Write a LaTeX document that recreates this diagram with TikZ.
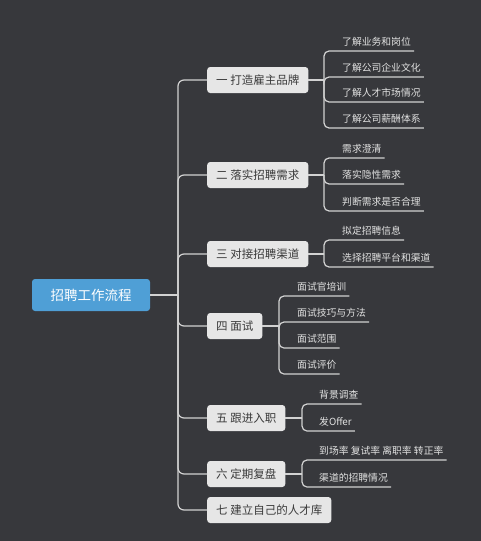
\documentclass[tikz,border=0pt]{standalone}
\usepackage{fontspec}
\newfontfamily\cjk{Noto Sans CJK SC}
\definecolor{bgcol}{HTML}{37383C}
\definecolor{rootblue}{HTML}{4F9FD6}
\definecolor{topicgray}{HTML}{E6E6E6}
\definecolor{topictext}{HTML}{3A3A3A}
\definecolor{leaftext}{HTML}{E2E2E2}
\definecolor{linkgray}{HTML}{D2D2D2}
\begin{document}
\begin{tikzpicture}[x=1pt,y=-1pt]
    \tikzset{
        rootbox/.style={fill=rootblue, rounded corners=3pt, text=white,
            font=\cjk\fontsize{13.5}{16}\selectfont, minimum width=118pt, minimum height=32pt},
        topic/.style={anchor=west, fill=topicgray, rounded corners=3pt, text=topictext,
            font=\cjk\fontsize{11.5}{14}\selectfont, minimum height=26pt, inner xsep=9pt},
        leaf/.style={anchor=south west, text=leaftext, font=\cjk\fontsize{9.8}{12}\selectfont,
            inner xsep=3pt, inner ysep=3pt, text height=8pt, text depth=2pt},
        link/.style={draw=linkgray, line width=1.2pt, rounded corners=5pt},}
    \fill[bgcol] (0,0) rectangle (481,541);
    \useasboundingbox (0,0) rectangle (481,541);
    % root and main topics
    \node[rootbox] (root) at (91,295) {招聘工作流程};
    \node[topic] (t1) at (207,80) {一 打造雇主品牌};
    \node[topic] (t2) at (207,175) {二 落实招聘需求};
    \node[topic] (t3) at (207,254) {三 对接招聘渠道};
    \node[topic] (t4) at (207,326) {四 面试};
    \node[topic] (t5) at (207,418) {五 跟进入职};
    \node[topic] (t6) at (207,474) {六 定期复盘};
    \node[topic] (t7) at (207,510) {七 建立自己的人才库};
    \coordinate (hub) at (178,295);
    \draw[link] (root.east) -- (hub);
    \foreach \t in {t1,t2,t3,t4,t5,t6,t7}
        \draw[link, rounded corners=6pt] (hub) |- (\t.west);
    % brackets
    \coordinate (k1) at (324,80);
    \coordinate (k2) at (324,175);
    \coordinate (k3) at (324,254);
    \coordinate (k4) at (279,326);
    \coordinate (k5) at (302,418);
    \coordinate (k6) at (302,474);
    \foreach \i in {1,...,6}
        \draw[link] (t\i.east) -- (k\i);
    % sub topics
    \foreach \txt/\yy [count=\i] in {了解业务和岗位/51, 了解公司企业文化/77, 了解人才市场情况/102, 了解公司薪酬体系/128} {
        \node[leaf] (a\i) at (339,\yy) {\txt};
        \draw[link] (k1) |- (a\i.south east);
    }
    \foreach \txt/\yy [count=\i] in {需求澄清/158, 落实隐性需求/184, 判断需求是否合理/211} {
        \node[leaf] (b\i) at (339,\yy) {\txt};
        \draw[link] (k2) |- (b\i.south east);
    }
    \foreach \txt/\yy [count=\i] in {拟定招聘信息/240, 选择招聘平台和渠道/267} {
        \node[leaf] (c\i) at (339,\yy) {\txt};
        \draw[link] (k3) |- (c\i.south east);
    }
    \foreach \txt/\yy [count=\i] in {面试官培训/296, 面试技巧与方法/322, 面试范围/348, 面试评价/374} {
        \node[leaf] (d\i) at (294,\yy) {\txt};
        \draw[link] (k4) |- (d\i.south east);
    }
    \foreach \txt/\yy [count=\i] in {背景调查/404, 发Offer/431} {
        \node[leaf] (e\i) at (316,\yy) {\txt};
        \draw[link] (k5) |- (e\i.south east);
    }
    \foreach \txt/\yy [count=\i] in {到场率 复试率 离职率 转正率/460, 渠道的招聘情况/487} {
        \node[leaf] (f\i) at (316,\yy) {\txt};
        \draw[link] (k6) |- (f\i.south east);
    }
\end{tikzpicture}
\end{document}
